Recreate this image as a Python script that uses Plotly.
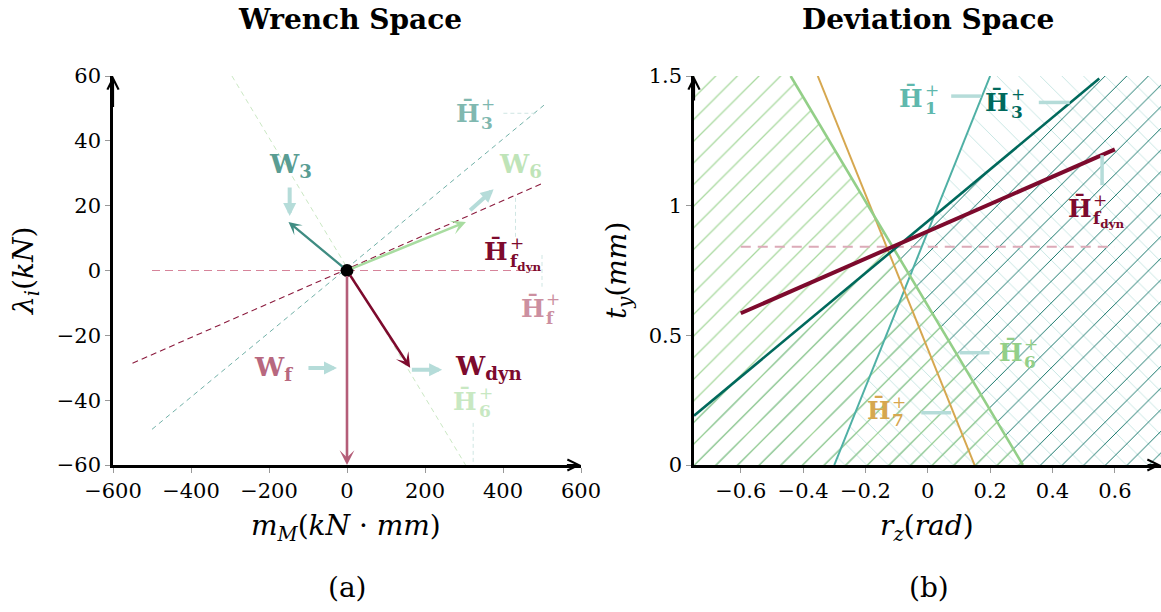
import plotly.graph_objects as go

W_PX, H_PX = 1161, 612

# ---------------- data: wrench space (a) ----------------
wrench_names = ["W3", "W6", "Wdyn", "Wf"]
wrench_mM = [-150, 305, 162, 0]
wrench_lam = [15, 15, -30, -60]

hf_mM, hf_lam = [-500, 500], [0, 0]
hfdyn_mM, hfdyn_lam = [-550, 505], [-28.6, 27.1]
h3w_mM, h3w_lam = [-500, 505], [-49, 51]
h6w_mM, h6w_lam = [-295, 304], [60, -60]

# ---------------- data: deviation space (b) ----------------
h1_rz, h1_ty = [-0.30, 0.20], [0.0, 1.5]
h3_rz, h3_ty = [-0.75, 0.55], [0.19, 1.49]
hfd_rz, hfd_ty = [-0.60, 0.60], [0.585, 1.217]
h6_rz, h6_ty = [-0.44, 0.305], [1.5, 0.0]
h7_rz, h7_ty = [-0.353, 0.15], [1.5, 0.0]
hfr_rz, hfr_ty = [-0.60, 0.60], [0.842, 0.842]

x_ticks_left = [-600, -400, -200, 0, 200, 400, 600]
y_ticks_left = [-60, -40, -20, 0, 20, 40, 60]
x_ticks_right = [-0.6, -0.4, -0.2, 0, 0.2, 0.4, 0.6]
y_ticks_right = [0, 0.5, 1, 1.5]


def fmt(v):
    s = ("%g" % v)
    return s.replace("-", "\u2212")


SERIF = "DejaVu Serif"

# colours
C_TEAL_D = "#00695c"
C_TEAL_M = "#4fb0a5"
C_GREEN = "#93cf88"
C_GOLD = "#d6a74f"
C_RED = "#7d0a2d"
C_PINK = "#b45d78"
C_POINT = "#b5dcd9"

fig = go.Figure()


def line_at(rz, ty, t):
    m = (ty[1] - ty[0]) / (rz[1] - rz[0])
    return ty[0] + m * (t - rz[0])


def rz_at(rz, ty, t):
    m = (rz[1] - rz[0]) / (ty[1] - ty[0])
    return rz[0] + m * (t - ty[0])


# ---------- hatched half spaces (b) ----------
PSIZE = 15.3
# right of H1 : light teal "\"
c_x = [rz_at(h1_rz, h1_ty, -1), rz_at(h1_rz, h1_ty, 2.5), 2, 2]
c_y = [-1, 2.5, 2.5, -1]
fig.add_trace(go.Scatter(x=c_x, y=c_y, xaxis="x2", yaxis="y2", mode="none", fill="toself",
                         fillcolor="rgba(0,0,0,0)",
                         fillpattern=dict(shape="\\", size=PSIZE, solidity=0.06, fgcolor="#c3e4e1",
                                          bgcolor="rgba(0,0,0,0)", fgopacity=1),
                         hoverinfo="skip"))
# below H3 : dark teal "/"
a_x = [-1, 1, 1, -1]
a_y = [line_at(h3_rz, h3_ty, -1), line_at(h3_rz, h3_ty, 1), -1, -1]
fig.add_trace(go.Scatter(x=a_x, y=a_y, xaxis="x2", yaxis="y2", mode="none", fill="toself",
                         fillcolor="rgba(0,0,0,0)",
                         fillpattern=dict(shape="/", size=PSIZE, solidity=0.06, fgcolor=C_TEAL_D,
                                          bgcolor="rgba(0,0,0,0)", fgopacity=1),
                         hoverinfo="skip"))
# left of H6 : light green "/"
b_x = [rz_at(h6_rz, h6_ty, -1), rz_at(h6_rz, h6_ty, 2.5), -2, -2]
b_y = [-1, 2.5, 2.5, -1]
fig.add_trace(go.Scatter(x=b_x, y=b_y, xaxis="x2", yaxis="y2", mode="none", fill="toself",
                         fillcolor="rgba(0,0,0,0)",
                         fillpattern=dict(shape="/", size=PSIZE, solidity=0.085, fgcolor="#a9d99f",
                                          bgcolor="rgba(0,0,0,0)", fgopacity=1),
                         hoverinfo="skip"))

# ---------- lines (b) ----------
fig.add_trace(go.Scatter(x=hfr_rz, y=hfr_ty, xaxis="x2", yaxis="y2", mode="lines",
                         line=dict(color="#dcaab8", width=2, dash="10px,7px"), hoverinfo="skip"))
for rz, ty, col, w in [(h1_rz, h1_ty, C_TEAL_M, 2),
                       (h7_rz, h7_ty, C_GOLD, 2),
                       (h6_rz, h6_ty, C_GREEN, 2.6),
                       (h3_rz, h3_ty, C_TEAL_D, 2.6),
                       (hfd_rz, hfd_ty, C_RED, 4)]:
    fig.add_trace(go.Scatter(x=rz, y=ty, xaxis="x2", yaxis="y2", mode="lines",
                             line=dict(color=col, width=w), hoverinfo="skip"))

# ---------- dashed hyperplanes (a) ----------
for xs, ys, col, dash, w in [(h6w_mM, h6w_lam, "#cbe8c4", "5px,4px", 1),
                             (h3w_mM, h3w_lam, "#72b1a8", "5px,4px", 1),
                             (hfdyn_mM, hfdyn_lam, "#8b1a3d", "6px,4px", 1.1),
                             (hf_mM, hf_lam, "#d6849a", "8px,5px", 1.1)]:
    fig.add_trace(go.Scatter(x=xs, y=ys, xaxis="x", yaxis="y", mode="lines",
                             line=dict(color=col, width=w, dash=dash), hoverinfo="skip"))

# faint leader lines (a)
LEAD = "#cfe6e3"
for xs, ys in [([401, 489], [48.5, 48.5]),
               ([432, 432], [22.4, 10.4]),
               ([500, 500], [4.8, -5]),
               ([323.5, 323.5], [-47, -60])]:
    fig.add_trace(go.Scatter(x=xs, y=ys, xaxis="x", yaxis="y", mode="lines",
                             line=dict(color=LEAD, width=1, dash="4px,3px"), hoverinfo="skip"))

# solid leader lines (b)
for xs, ys in [([0.075, 0.171], [1.4225, 1.4225]),
               ([0.356, 0.455], [1.398, 1.398]),
               ([0.559, 0.559], [1.195, 1.079]),
               ([0.102, 0.198], [0.433, 0.433]),
               ([-0.021, 0.075], [0.2016, 0.2016])]:
    fig.add_trace(go.Scatter(x=xs, y=ys, xaxis="x2", yaxis="y2", mode="lines",
                             line=dict(color=C_POINT, width=3.5), hoverinfo="skip"))

annotations = []

# wrench arrows
wcols = {"W3": "#3f8c82", "W6": "#a8dca0", "Wdyn": C_RED, "Wf": C_PINK}
wwidth = {"W3": 2.3, "W6": 2.6, "Wdyn": 2.6, "Wf": 2.6}
for n, mx, ly in zip(wrench_names, wrench_mM, wrench_lam):
    annotations.append(dict(x=mx, y=ly, ax=0, ay=0, xref="x", yref="y", axref="x", ayref="y",
                            text="", showarrow=True, arrowhead=3, arrowsize=0.95,
                            arrowwidth=wwidth[n], arrowcolor=wcols[n], standoff=0, startstandoff=4))

# origin point
fig.add_trace(go.Scatter(x=[0], y=[0], xaxis="x", yaxis="y", mode="markers",
                         marker=dict(color="black", size=13), hoverinfo="skip"))

# light pointer arrows (a)
for (x0, y0, x1, y1) in [(-147, 26.1, -147, 16.8),
                         (312, 18.2, 376, 25.1),
                         (-102.7, -30.1, -25.7, -30.1),
                         (162.5, -30.6, 243.9, -30.6)]:
    annotations.append(dict(x=x1, y=y1, ax=x0, ay=y0, xref="x", yref="y", axref="x", ayref="y",
                            text="", showarrow=True, arrowhead=2, arrowsize=0.65,
                            arrowwidth=4, arrowcolor=C_POINT, standoff=0))

# W labels (a)
for txt, x, y, col in [("<b>W<sub>3</sub></b>", -205, 32.6, "#5a9d93"),
                       ("<b>W<sub>6</sub></b>", 384, 32.6, "#bfe4b8"),
                       ("<b>W<sub>f</sub></b>", -243, -30, "#b8687f"),
                       ("<b>W<sub>dyn</sub></b>", 271, -29.5, C_RED)]:
    annotations.append(dict(x=x, y=y, xref="x", yref="y", text=txt, showarrow=False,
                            xanchor="left", yanchor="middle", yshift=-1,
                            font=dict(family=SERIF, size=26, color=col)))


def hbar(xr, yr, x, y, sub, col, size=25):
    small = 0.68 * size
    out = [dict(x=x, y=y, xref=xr, yref=yr, text="<b>H\u0304</b>", showarrow=False,
                xanchor="center", yanchor="middle", font=dict(family=SERIF, size=size, color=col)),
           dict(x=x, y=y, xref=xr, yref=yr, text="+", showarrow=False, xanchor="left", yanchor="bottom",
                xshift=0.47 * size, yshift=-0.14 * size, font=dict(family=SERIF, size=small, color=col)),
           dict(x=x, y=y, xref=xr, yref=yr, text=sub, showarrow=False, xanchor="left", yanchor="top",
                xshift=0.47 * size, yshift=0.08 * size, font=dict(family=SERIF, size=small, color=col))]
    return out


FD = "<b>f<sub>dyn</sub></b>"
annotations += hbar("x", "y", 309, 48.6, "<b>3</b>", "#80b8b0")
annotations += hbar("x", "y", 382, 5.9, FD, C_RED)
annotations += hbar("x", "y", 476, -11.5, "<b>f</b>", "#cc8fa0")
annotations += hbar("x", "y", 303.7, -40.3, "<b>6</b>", "#c8e8c2")

annotations += hbar("x2", "y2", -0.0533, 1.415, "<b>1</b>", "#5fb8ad")
annotations += hbar("x2", "y2", 0.222, 1.399, "<b>3</b>", C_TEAL_D)
annotations += hbar("x2", "y2", 0.487, 0.991, FD, C_RED)
annotations += hbar("x2", "y2", 0.2655, 0.4356, "<b>6</b>", C_GREEN)
annotations += hbar("x2", "y2", -0.158, 0.212, "<b>7</b>", C_GOLD)

# axis arrowheads
for xr, yr, x, y, ax, ay in [("x", "y", -600, 60, -600, 50),
                             ("x", "y", 600, -60, 560, -60),
                             ("x2", "y2", -0.75, 1.5, -0.75, 1.4),
                             ("x2", "y2", 0.748, 0, 0.7, 0)]:
    annotations.append(dict(x=x, y=y, ax=ax, ay=ay, xref=xr, yref=yr, axref=xr, ayref=yr,
                            text="", showarrow=True, arrowhead=5, arrowsize=1.0, arrowwidth=2.2,
                            arrowcolor="black", standoff=0))


def paper(px, py):
    return px / W_PX, 1 - py / H_PX


for txt, px, py, size, ang in [("<b>Wrench Space</b>", 350, 20, 28, 0),
                               ("<b>Deviation Space</b>", 928, 20, 28, 0),
                               ("<i>m</i><sub><i>M</i></sub>(<i>kN</i> \u00b7 <i>mm</i>)", 346, 527, 28, 0),
                               ("<i>r</i><sub><i>z</i></sub>(<i>rad</i>)", 927, 527, 28, 0),
                               ("(a)", 347, 587, 28, 0),
                               ("(b)", 929, 587, 28, 0),
                               ("<i>\u03bb</i><sub><i>i</i></sub>(<i>kN</i>)", 25, 271, 28, -90),
                               ("<i>t</i><sub><i>y</i></sub>(<i>mm</i>)", 618, 271, 28, -90)]:
    xp, yp = paper(px, py)
    annotations.append(dict(x=xp, y=yp, xref="paper", yref="paper", text=txt, showarrow=False,
                            xanchor="center", yanchor="middle", textangle=ang,
                            font=dict(family=SERIF, size=size, color="black")))

axis_common = dict(showline=True, linecolor="black", linewidth=2.5, ticks="outside", ticklen=5,
                   tickwidth=1, tickcolor="#999999", showgrid=False, zeroline=False, automargin=False,
                   tickfont=dict(family=SERIF, size=21, color="black"))

y_dom = [1 - 465 / H_PX, 1 - 76 / H_PX]
fig.update_layout(
    width=W_PX, height=H_PX, margin=dict(l=0, r=0, t=0, b=0, pad=0, autoexpand=False),
    paper_bgcolor="white", plot_bgcolor="white", showlegend=False,
    xaxis=dict(domain=[113 / W_PX, 581 / W_PX], range=[-600, 600], anchor="y",
               tickvals=x_ticks_left, ticktext=[fmt(v) for v in x_ticks_left], **axis_common),
    yaxis=dict(domain=y_dom, range=[-60, 60], anchor="x",
               tickvals=y_ticks_left, ticktext=[fmt(v) for v in y_ticks_left], **axis_common),
    xaxis2=dict(domain=[694 / W_PX, 1.0], range=[-0.75, 0.748], anchor="y2",
                tickvals=x_ticks_right, ticktext=[fmt(v) for v in x_ticks_right], **axis_common),
    yaxis2=dict(domain=y_dom, range=[0, 1.5], anchor="x2",
                tickvals=y_ticks_right, ticktext=[fmt(v) for v in y_ticks_right], **axis_common),
    annotations=annotations,
)

fig.write_html("out.html")
